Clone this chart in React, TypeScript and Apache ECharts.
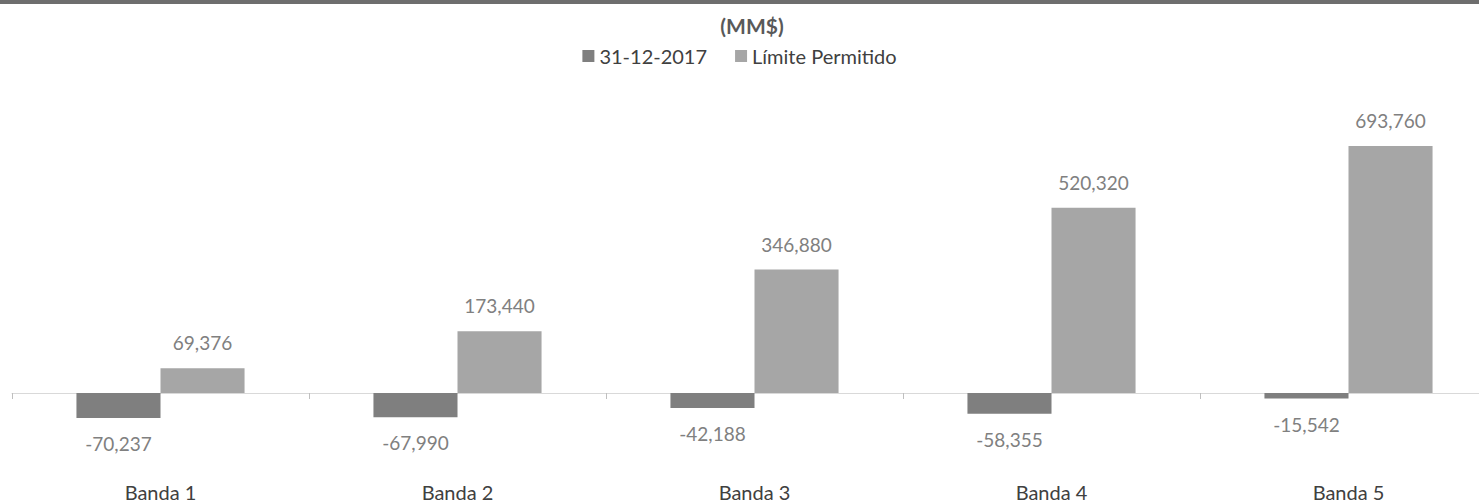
import React, { useEffect, useRef } from "react";
import * as echarts from "echarts";

const categories = ["Banda 1", "Banda 2", "Banda 3", "Banda 4", "Banda 5"];
const seriesNames = ["31-12-2017", "Límite Permitido"];
const actualValues = [-70237, -67990, -42188, -58355, -15542];
const limitValues = [69376, 173440, 346880, 520320, 693760];
const titleText = "(MM$)";

const FONT = "Lato, 'Open Sans', sans-serif";
const fmt = (v: number) => v.toLocaleString("en-US");

export default function App() {
  const ref = useRef<HTMLDivElement>(null);
  useEffect(() => {
    if (!ref.current) return;
    const chart = echarts.init(ref.current, undefined, { renderer: "svg" });
    chart.setOption({
      animation: false,
      backgroundColor: "#ffffff",
      textStyle: { fontFamily: FONT },
      graphic: [
        { type: "rect", left: 0, top: 0, shape: { width: 1479, height: 4 }, style: { fill: "#6e6e6e" } },
        {
          type: "text",
          x: 752,
          y: 25,
          style: {
            text: titleText,
            fill: "#595959",
            font: `bold 21px ${FONT}`,
            textAlign: "center",
            textVerticalAlign: "middle",
          },
        },
      ],
      legend: {
        top: 41,
        left: "center",
        itemWidth: 12,
        itemHeight: 12,
        itemGap: 28,
        icon: "rect",
        textStyle: { color: "#404040", fontSize: 20, fontFamily: FONT },
        data: seriesNames,
      },
      grid: {
        left: 12,
        right: -18,
        top: 108.2,
        bottom: 74.4,
        containLabel: false,
        outerBoundsMode: "none",
      },
      xAxis: {
        type: "category",
        data: categories,
        axisLine: { show: true, lineStyle: { color: "#d9d9d9", width: 1 } },
        axisTick: { show: true, length: 6, lineStyle: { color: "#bfbfbf" } },
        axisLabel: { color: "#404040", fontSize: 20, margin: 53, fontFamily: FONT },
        splitLine: { show: false },
      },
      yAxis: {
        type: "value",
        min: -100000,
        max: 800000,
        show: false,
        splitLine: { show: false },
      },
      series: [
        {
          name: seriesNames[0],
          type: "bar",
          data: actualValues,
          barGap: "0%",
          barCategoryGap: "43.4%",
          itemStyle: { color: "#7f7f7f" },
          label: {
            show: true,
            position: "bottom",
            distance: 16,
            color: "#808080",
            fontSize: 19,
            fontFamily: FONT,
            formatter: (p: any) => fmt(p.value),
          },
        },
        {
          name: seriesNames[1],
          type: "bar",
          data: limitValues,
          barGap: "0%",
          barCategoryGap: "43.4%",
          itemStyle: { color: "#a6a6a6" },
          label: {
            show: true,
            position: "top",
            distance: 16,
            color: "#808080",
            fontSize: 19,
            fontFamily: FONT,
            formatter: (p: any) => fmt(p.value),
          },
        },
      ],
    });
    return () => chart.dispose();
  }, []);
  return (
    <div
      ref={ref}
      style={{ position: "fixed", left: 0, top: 0, width: 1479, height: 503, background: "#fff" }}
    />
  );
}
